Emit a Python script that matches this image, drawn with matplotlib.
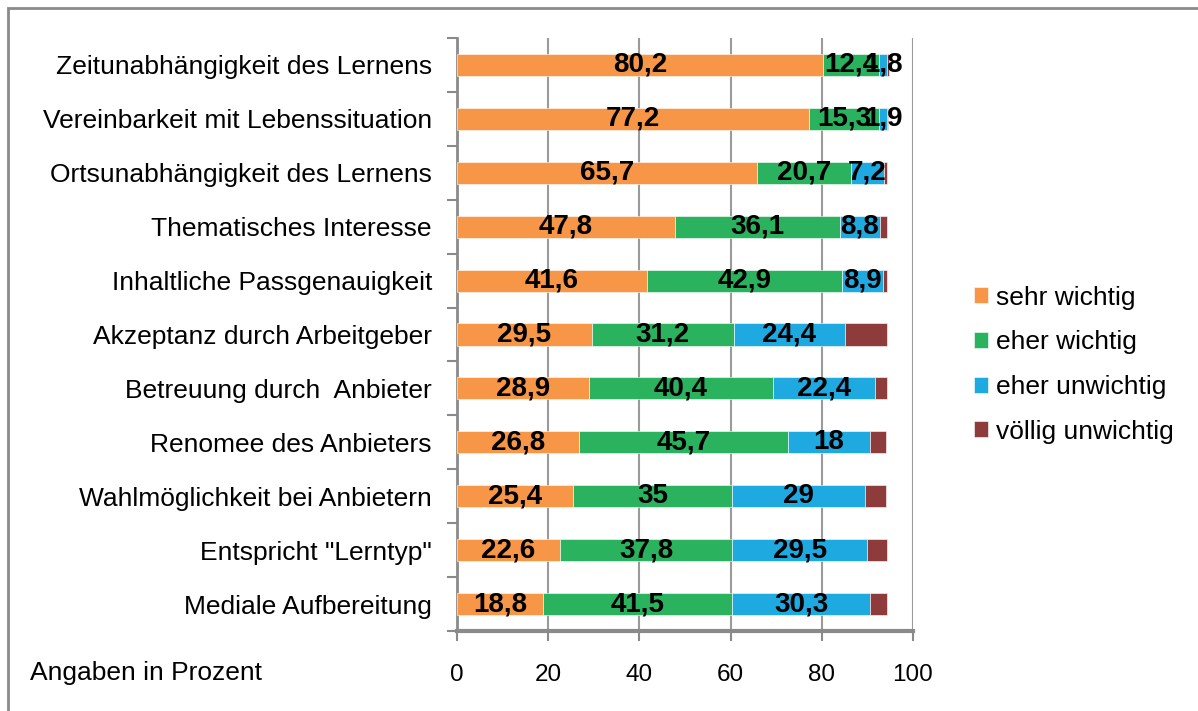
import matplotlib.pyplot as plt
import numpy as np
from matplotlib.patches import Rectangle

plt.rcParams['font.family'] = ['Liberation Sans', 'DejaVu Sans']

categories = [
    'Zeitunabhängigkeit des Lernens',
    'Vereinbarkeit mit Lebenssituation',
    'Ortsunabhängigkeit des Lernens',
    'Thematisches Interesse',
    'Inhaltliche Passgenauigkeit',
    'Akzeptanz durch Arbeitgeber',
    'Betreuung durch  Anbieter',
    'Renomee des Anbieters',
    'Wahlmöglichkeit bei Anbietern',
    'Entspricht "Lerntyp"',
    'Mediale Aufbereitung',
]
sehr_wichtig = [80.2, 77.2, 65.7, 47.8, 41.6, 29.5, 28.9, 26.8, 25.4, 22.6, 18.8]
eher_wichtig = [12.4, 15.3, 20.7, 36.1, 42.9, 31.2, 40.4, 45.7, 35.0, 37.8, 41.5]
eher_unwichtig = [1.8, 1.9, 7.2, 8.8, 8.9, 24.4, 22.4, 18.0, 29.0, 29.5, 30.3]
voellig_unwichtig = [0.3, 0.2, 0.8, 1.7, 1.0, 9.3, 2.7, 3.5, 4.6, 4.5, 3.8]

series_names = ['sehr wichtig', 'eher wichtig', 'eher unwichtig', 'völlig unwichtig']
colors = ['#F79646', '#2BB25E', '#1FA9E1', '#8E3B3B']
x_ticks = [0, 20, 40, 60, 80, 100]

fig = plt.figure(figsize=(11.98, 7.11), dpi=100)
ax = fig.add_axes([457 / 1198, 1 - 631 / 711, (913 - 457) / 1198, (631 - 38) / 711])

# outer frame (only top/left visible in the reference)
fig.patches.append(Rectangle((8 / 1198, -0.1), 1.2, 1 - 8 / 711 + 0.1,
                             transform=fig.transFigure, fill=False,
                             edgecolor='#8a8a8a', linewidth=2))

y = np.arange(len(categories))
data = [sehr_wichtig, eher_wichtig, eher_unwichtig, voellig_unwichtig]
left = np.zeros(len(categories))
for i, (vals, name, col) in enumerate(zip(data, series_names, colors)):
    vals = np.array(vals)
    ax.barh(y, vals, left=left, height=0.41, color=col, label=name,
            edgecolor='white', linewidth=0.4, zorder=3)
    if i < 3:
        for yy, l, v in zip(y, left, vals):
            txt = f'{v:g}'.replace('.', ',')
            ax.text(l + v / 2, yy, txt, ha='center', va='center',
                    fontsize=20, fontweight='bold', color='black', zorder=5)
    left += vals

ax.set_xlim(0, 100)
ax.set_ylim(len(categories) - 0.5, -0.5)
ax.set_xticks(x_ticks)
ax.set_xticklabels([str(t) for t in x_ticks], fontsize=17.5)
ax.set_yticks(y)
ax.set_yticklabels(categories, fontsize=19)
ax.set_yticks(np.arange(len(categories) + 1) - 0.5, minor=True)

ax.tick_params(axis='x', length=7, width=1.5, color='#8a8a8a', pad=17)
ax.tick_params(axis='y', which='major', length=0, pad=18)
ax.tick_params(axis='y', which='minor', length=7, width=1.5, color='#8a8a8a')

ax.grid(axis='x', color='#9a9a9a', linewidth=1.5, zorder=0)
for s in ['top', 'right']:
    ax.spines[s].set_visible(False)
ax.spines['left'].set_color('#8a8a8a')
ax.spines['left'].set_linewidth(2)
ax.spines['bottom'].set_color('#8a8a8a')
ax.spines['bottom'].set_linewidth(3)

fig.text(30 / 1198, 1 - 673 / 711, 'Angaben in Prozent', fontsize=19,
         ha='left', va='center')

fig.legend(loc='upper left', bbox_to_anchor=(950 / 1198, 1 - 262 / 711),
           frameon=False, fontsize=19, handlelength=0.55, handleheight=0.55,
           handletextpad=0.3, labelspacing=0.78)

fig.savefig('out.png', dpi=100)
